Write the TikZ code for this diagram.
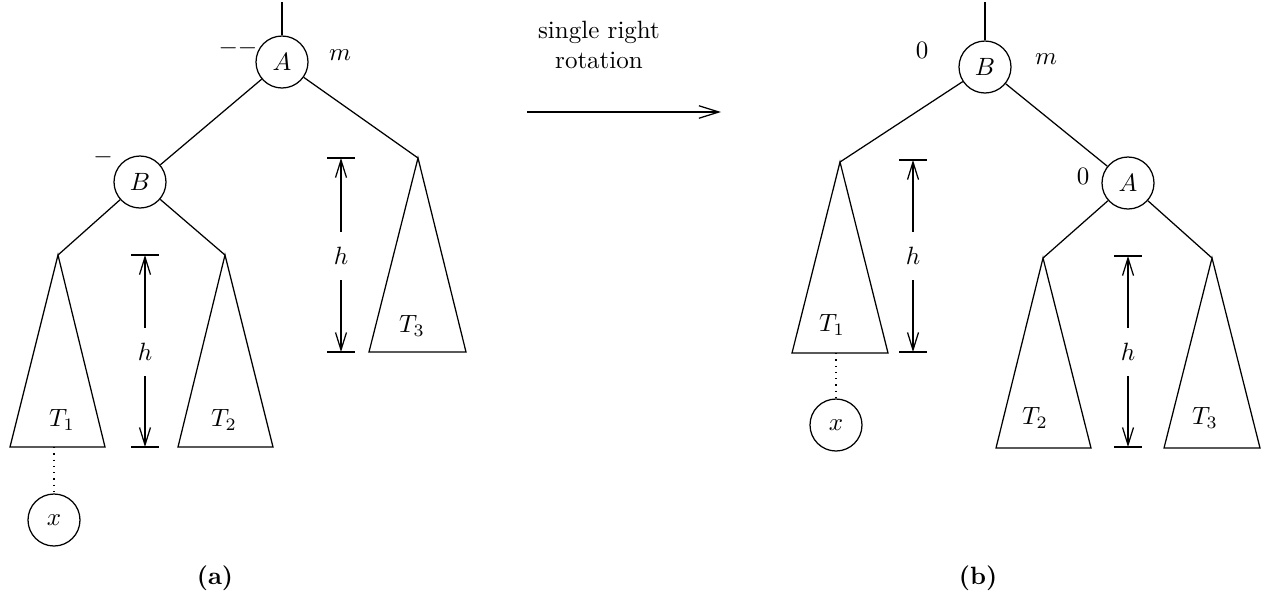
\documentclass[tikz,border=0pt]{standalone}
\usetikzlibrary{arrows.meta}
\tikzset{
  vertex/.style={draw,circle,minimum size=20.8pt,inner sep=0pt},
  hlabel/.style={inner sep=0pt,minimum height=19pt},
  hbar/.style={-{Straight Barb[length=7pt,width=4.4pt]}},
}
\begin{document}
\begin{tikzpicture}[x={(0.4pt,0)},y={(0,-0.4pt)},line width=0.5pt]
  \useasboundingbox (0,0) rectangle (1264,601);
  % (a) before rotation
  \coordinate (ta) at (282,2);
  \node[vertex] (A) at (282,62) {$A$};
  \node[vertex] (B) at (140,182) {$B$};
  \node at (238,48) {$--$};
  \node at (340,55) {$m$};
  \node at (103,157) {$-$};
  \coordinate (t1) at (58,255);
  \coordinate (t2) at (225,255);
  \coordinate (t3) at (418,158);
  \draw (ta) -- (A);
  \draw (A) -- (B);
  \draw (A) -- (t3);
  \draw (B) -- (t1);
  \draw (B) -- (t2);
  \draw (t1) -- (10,447) -- (105,447) -- cycle;
  \draw (t2) -- (178,447) -- (273,447) -- cycle;
  \draw (t3) -- (369,352) -- (466,352) -- cycle;
  \node at (62,420) {$T_1$};
  \node at (224,420) {$T_2$};
  \node at (412,326) {$T_3$};
  \coordinate (b1) at (54,447);
  \node[vertex] (x) at (54,520) {$x$};
  \draw[dotted] (b1) -- (x);
  % height marks
  \node[hlabel] (h1) at (145,352) {$h$};
  \draw (131,255) -- (159,255);
  \draw (131,447) -- (159,447);
  \draw[hbar] (h1.north) -- (145,255);
  \draw[hbar] (h1.south) -- (145,447);
  \node[hlabel] (h2) at (341,256) {$h$};
  \draw (327,158) -- (355,158);
  \draw (327,352) -- (355,352);
  \draw[hbar] (h2.north) -- (341,158);
  \draw[hbar] (h2.south) -- (341,352);
  \node at (215,578) {\textbf{(a)}};
  % rotation arrow
  \node[align=center] at (599,45) {single right\\rotation};
  \draw[-{Straight Barb[length=8pt,width=5pt]}] (527,112) -- (721,112);
  % (b) after rotation
  \coordinate (tb) at (985,2);
  \node[vertex] (B') at (985,67) {$B$};
  \node[vertex] (A') at (1128,183) {$A$};
  \node at (922,50) {$0$};
  \node at (1046,59) {$m$};
  \node at (1083,176) {$0$};
  \coordinate (s1) at (840,162);
  \coordinate (s2) at (1043,258);
  \coordinate (s3) at (1212,258);
  \draw (tb) -- (B');
  \draw (B') -- (s1);
  \draw (B') -- (A');
  \draw (A') -- (s2);
  \draw (A') -- (s3);
  \draw (s1) -- (792,353) -- (888,353) -- cycle;
  \draw (s2) -- (996,448) -- (1091,448) -- cycle;
  \draw (s3) -- (1164,448) -- (1260,448) -- cycle;
  \node at (832,325) {$T_1$};
  \node at (1035,418) {$T_2$};
  \node at (1205,418) {$T_3$};
  \coordinate (c1) at (836,353);
  \node[vertex] (x') at (836,425) {$x$};
  \draw[dotted] (c1) -- (x');
  \node[hlabel] (h3) at (913,256) {$h$};
  \draw (899,160) -- (927,160);
  \draw (899,352) -- (927,352);
  \draw[hbar] (h3.north) -- (913,160);
  \draw[hbar] (h3.south) -- (913,352);
  \node[hlabel] (h4) at (1128,352) {$h$};
  \draw (1114,256) -- (1142,256);
  \draw (1114,447) -- (1142,447);
  \draw[hbar] (h4.north) -- (1128,256);
  \draw[hbar] (h4.south) -- (1128,447);
  \node at (978,578) {\textbf{(b)}};
\end{tikzpicture}
\end{document}
